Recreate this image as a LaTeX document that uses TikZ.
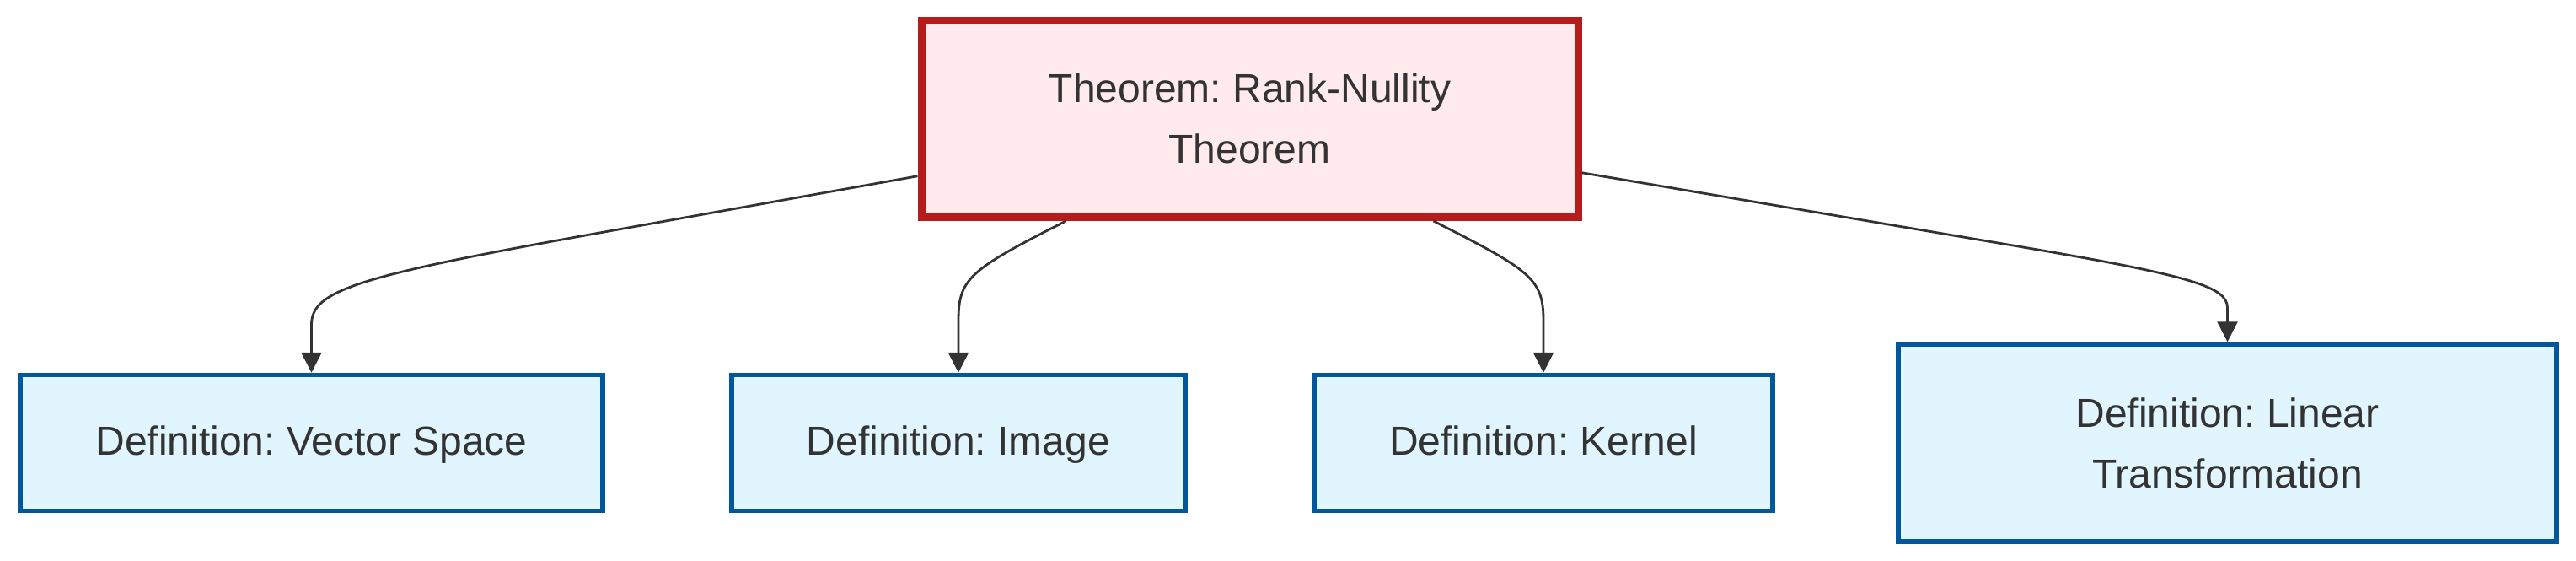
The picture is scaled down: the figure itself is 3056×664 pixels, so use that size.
\documentclass[tikz,border=0pt]{standalone}
\usepackage{fontspec}
\setmainfont{Liberation Sans}
\usetikzlibrary{arrows.meta,calc}
\definecolor{txt}{HTML}{333333}
\definecolor{thfill}{HTML}{FFEBEE}
\definecolor{thline}{HTML}{B71C1C}
\definecolor{dffill}{HTML}{E1F5FE}
\definecolor{dfline}{HTML}{01579B}
\begin{document}
\frenchspacing
\begin{tikzpicture}[x=0.5pt,y=-0.5pt,
  lbl/.style={text=txt,align=center,font=\fontsize{24}{36}\selectfont,inner sep=0pt},
  thbox/.style={lbl,draw=thline,fill=thfill,line width=4.5pt,minimum width=389.5pt,minimum height=116.75pt},
  dfbox/.style={lbl,draw=dfline,fill=dffill,line width=2.75pt,minimum height=80.5pt},
  edge/.style={draw=txt,line width=1.4pt,-{Triangle[length=12pt,width=12pt]}}]
\useasboundingbox (0,0) rectangle (3056,664);
\fill[white] (0,0) rectangle (3056,664);
\node[thbox] (top) at (1482.5,140.75) {Theorem: Rank-Nullity\\Theorem};
\node[dfbox,minimum width=345.5pt] (vs) at (369.5,525) {\strut Definition: Vector Space};
\node[dfbox,minimum width=269pt] (img) at (1137,525) {\strut Definition: Image};
\node[dfbox,minimum width=272pt] (ker) at (1831,525) {\strut Definition: Kernel};
\node[dfbox,minimum width=390.5pt,minimum height=117pt] (lin) at (2642.5,525) {Definition: Linear\\Transformation};
\draw[edge] ($(top.west)+(0,68)$) -- (700,278) .. controls (420,328) and (369.5,345) .. (369.5,385) -- (vs.north);
\draw[edge] ($(top.south)+(-218,0)$) .. controls (1150,320) and (1137,330) .. (1137,380) -- (img.north);
\draw[edge] ($(top.south)+(218,0)$) .. controls (1815,320) and (1831,330) .. (1831,380) -- (ker.north);
\draw[edge] ($(top.east)+(0,64)$) -- (2400,293) .. controls (2600,327) and (2642.5,340) .. (2642.5,365) -- (lin.north);
\end{tikzpicture}
\end{document}
